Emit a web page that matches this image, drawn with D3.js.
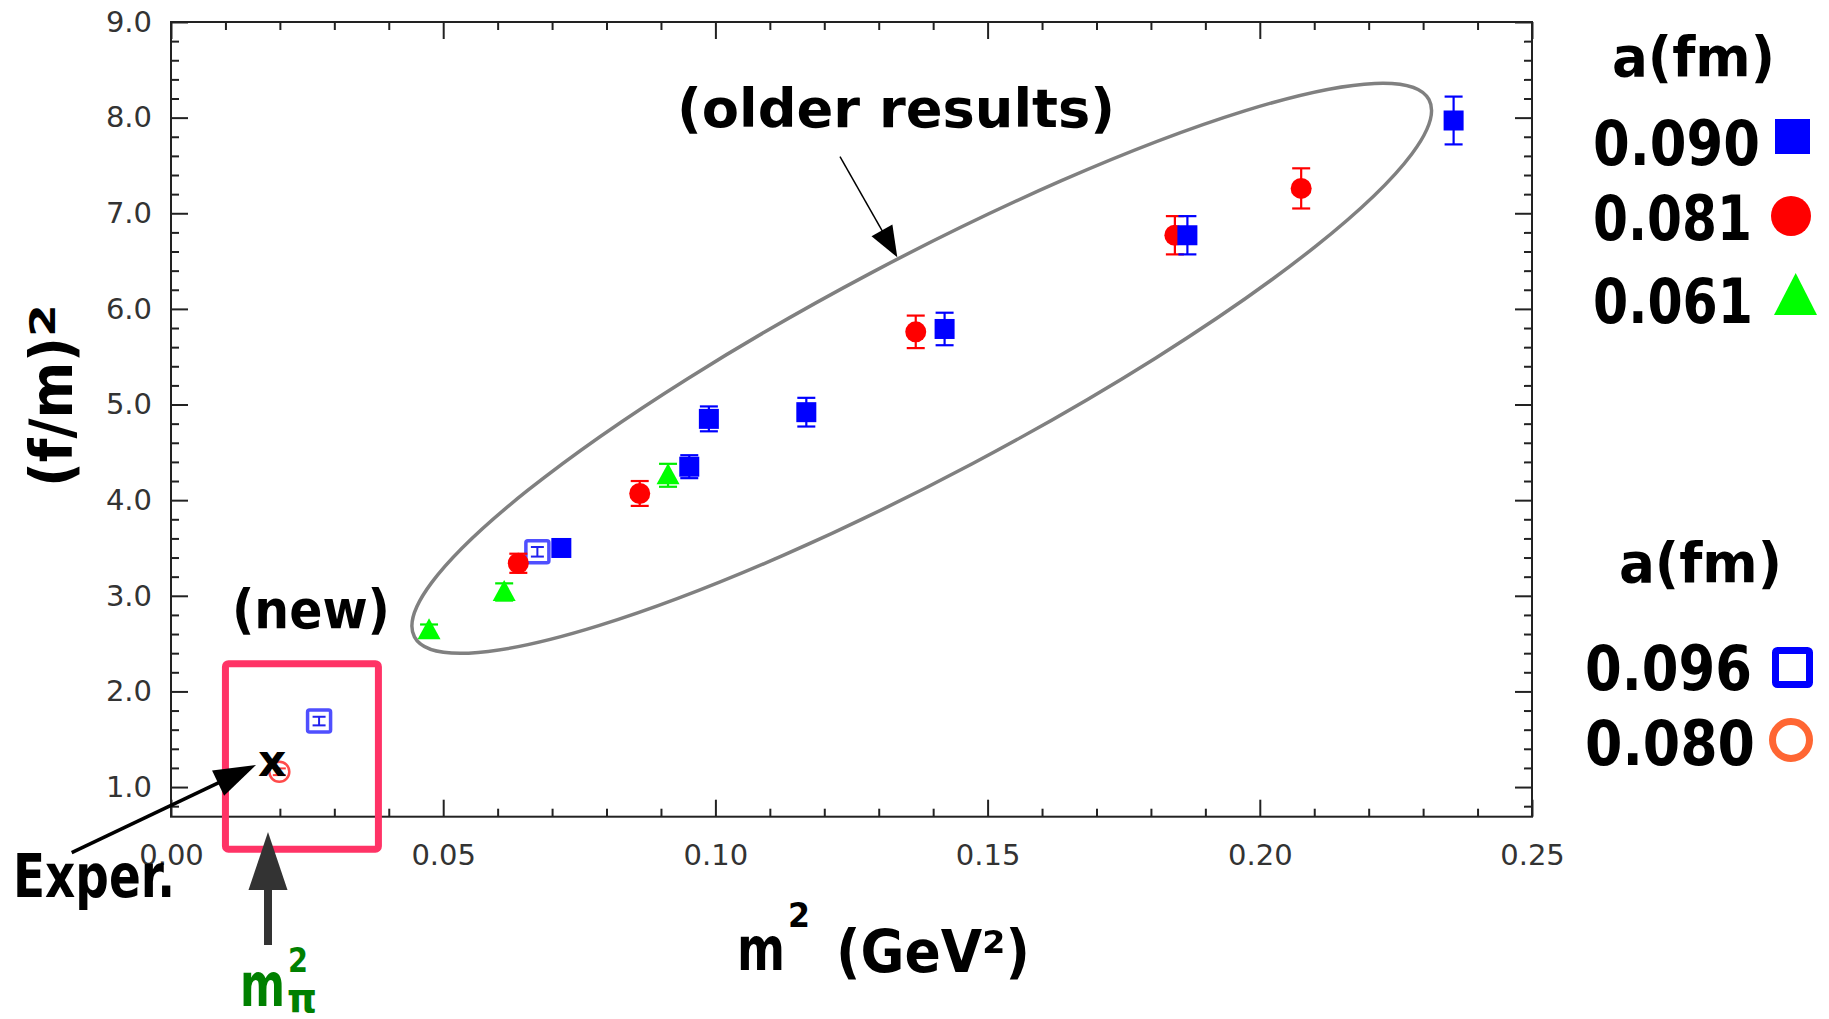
<!DOCTYPE html>
<html>
<head>
<meta charset="utf-8">
<script src="https://cdn.jsdelivr.net/npm/d3@7"></script>
<style>
  html, body { margin: 0; padding: 0; background: #fff; }
  svg { display: block; }
  .tick text { font-family: "DejaVu Sans", sans-serif; font-size: 29px; fill: #333; }
  .ann { font-family: "DejaVu Sans", sans-serif; font-weight: bold; }
</style>
</head>
<body>
<svg id="chart" width="1829" height="1019"></svg>
<script>
// ---------- data ----------
// a = 0.090 fm (filled blue squares)
const m2_090 = [0.0717, 0.0952, 0.0988, 0.1167, 0.1421, 0.1867, 0.2356];
const f_090  = [3.50, 4.35, 4.85, 4.92, 5.79, 6.77, 7.97];
const e_090  = [0.07, 0.12, 0.13, 0.15, 0.17, 0.20, 0.25];
// a = 0.081 fm (filled red circles)
const m2_081 = [0.0638, 0.0861, 0.1368, 0.1844, 0.2076];
const f_081  = [3.34, 4.07, 5.76, 6.77, 7.26];
const e_081  = [0.10, 0.13, 0.17, 0.20, 0.21];
// a = 0.061 fm (green triangles)
const m2_061 = [0.0474, 0.0612, 0.0913];
const f_061  = [2.64, 3.04, 4.26];
const e_061  = [0.06, 0.09, 0.12];
// a = 0.096 fm (open blue squares)
const m2_096 = [0.0272, 0.0673];
const f_096  = [1.69, 3.46];
const e_096  = [0.045, 0.05];
// a = 0.080 fm (open circle)
const m2_080 = [0.0199];
const f_080  = [1.16];
const e_080  = [0.035];
// experiment
const m2_exp = [0.0186];
const f_exp  = [1.24];

const xMajor = [0, 0.05, 0.10, 0.15, 0.20, 0.25];
const yMajor = [1, 2, 3, 4, 5, 6, 7, 8, 9];

// ---------- scales ----------
const svg = d3.select("#chart");
const x = d3.scaleLinear().domain([0, 0.25]).range([171, 1532]);
const y = d3.scaleLinear().domain([0.69, 9.0]).range([816.7, 22]);

const xMinor = d3.range(0, 0.2501, 0.01).filter(v => Math.abs(v / 0.05 - Math.round(v / 0.05)) > 1e-6);
const yMinor = d3.range(0.8, 9.0, 0.2).filter(v => Math.abs(v - Math.round(v)) > 1e-6);

const axisCol = "#222";
function styleAxis(g) {
  g.selectAll(".domain").remove();
  g.selectAll(".tick line").attr("stroke", axisCol).attr("stroke-width", 2);
}
// bottom
svg.append("g").attr("transform", `translate(0,${y(0.69)})`)
  .call(d3.axisBottom(x).tickValues(xMajor).tickFormat(d3.format(".2f")).tickSize(-17).tickPadding(28))
  .call(styleAxis);
svg.append("g").attr("transform", `translate(0,${y(0.69)})`)
  .call(d3.axisBottom(x).tickValues(xMinor).tickFormat("").tickSize(-8)).call(styleAxis);
// top
svg.append("g").attr("transform", `translate(0,${y(9)})`)
  .call(d3.axisTop(x).tickValues(xMajor).tickFormat("").tickSize(-17)).call(styleAxis);
svg.append("g").attr("transform", `translate(0,${y(9)})`)
  .call(d3.axisTop(x).tickValues(xMinor).tickFormat("").tickSize(-8)).call(styleAxis);
// left
svg.append("g").attr("transform", `translate(${x(0)},0)`)
  .call(d3.axisLeft(y).tickValues(yMajor).tickFormat(d3.format(".1f")).tickSize(-17).tickPadding(19))
  .call(styleAxis);
svg.append("g").attr("transform", `translate(${x(0)},0)`)
  .call(d3.axisLeft(y).tickValues(yMinor).tickFormat("").tickSize(-8)).call(styleAxis);
// right
svg.append("g").attr("transform", `translate(${x(0.25)},0)`)
  .call(d3.axisRight(y).tickValues(yMajor).tickFormat("").tickSize(-17)).call(styleAxis);
svg.append("g").attr("transform", `translate(${x(0.25)},0)`)
  .call(d3.axisRight(y).tickValues(yMinor).tickFormat("").tickSize(-8)).call(styleAxis);
// frame
svg.append("rect").attr("x", x(0)).attr("y", y(9)).attr("width", x(0.25) - x(0)).attr("height", y(0.69) - y(9))
  .attr("fill", "none").attr("stroke", axisCol).attr("stroke-width", 2);

// ---------- data marks ----------
function series(xs, ys, es) { return xs.map((v, i) => ({ x: v, y: ys[i], e: es ? es[i] : 0 })); }
const plot = svg.append("g");
function errBars(data, color, cap, sw) {
  const g = plot.append("g").attr("stroke", color).attr("stroke-width", sw).attr("fill", "none");
  data.forEach(d => {
    const cx = x(d.x), y1 = y(d.y - d.e), y2 = y(d.y + d.e);
    g.append("line").attr("x1", cx).attr("x2", cx).attr("y1", y1).attr("y2", y2);
    g.append("line").attr("x1", cx - cap / 2).attr("x2", cx + cap / 2).attr("y1", y1).attr("y2", y1);
    g.append("line").attr("x1", cx - cap / 2).attr("x2", cx + cap / 2).attr("y1", y2).attr("y2", y2);
  });
}
const d090 = series(m2_090, f_090, e_090);
const d081 = series(m2_081, f_081, e_081);
const d061 = series(m2_061, f_061, e_061);
const d096 = series(m2_096, f_096, e_096);
const d080 = series(m2_080, f_080, e_080);

// open blue squares
plot.selectAll(".s096").data(d096).enter().append("rect")
  .attr("x", d => x(d.x) - 11.5).attr("y", d => y(d.y) - 11).attr("width", 23).attr("height", 22)
  .attr("rx", 2).attr("fill", "none").attr("stroke", "#4f4fff").attr("stroke-width", 3.5);
errBars(d096, "#2222ee", 13, 2);

// open circle
plot.selectAll(".c080").data(d080).enter().append("circle")
  .attr("cx", d => x(d.x)).attr("cy", d => y(d.y)).attr("r", 10)
  .attr("fill", "none").attr("stroke", "#ff4a4a").attr("stroke-width", 2.5);
errBars(d080, "#ff3b3b", 13, 2);

// green triangles
errBars(d061, "#00ee00", 18, 2.2);
plot.selectAll(".t061").data(d061).enter().append("path")
  .attr("d", d => { const cx = x(d.x), cy = y(d.y); return `M${cx},${cy - 12}L${cx + 11.5},${cy + 9}L${cx - 11.5},${cy + 9}Z`; })
  .attr("fill", "#00ff00");

// red circles
errBars(d081, "#ff0000", 18, 2.2);
plot.selectAll(".c081").data(d081).enter().append("circle")
  .attr("cx", d => x(d.x)).attr("cy", d => y(d.y)).attr("r", 10.5).attr("fill", "#ff0000");

// blue squares
errBars(d090, "#0000ff", 18, 2.2);
plot.selectAll(".s090").data(d090).enter().append("rect")
  .attr("x", d => x(d.x) - 10).attr("y", d => y(d.y) - 10).attr("width", 20).attr("height", 20)
  .attr("fill", "#0000ff");

// experiment "x"
plot.selectAll(".exp").data(series(m2_exp, f_exp)).enter().append("text")
  .attr("class", "ann").attr("x", d => x(d.x)).attr("y", d => y(d.y) + 12)
  .attr("text-anchor", "middle").attr("font-size", 44).attr("fill", "#000").text("x");

// ---------- annotations ----------
const ann = svg.append("g");
// ellipse around older results
ann.append("ellipse")
  .attr("transform", `translate(${x(0.1379)},${y(5.379)}) rotate(-27.9)`)
  .attr("rx", 574).attr("ry", 108)
  .attr("fill", "none").attr("stroke", "#808080").attr("stroke-width", 3.5);
// box around new results
ann.append("rect")
  .attr("x", x(0.01) ).attr("y", y(2.29))
  .attr("width", x(0.0381) - x(0.01)).attr("height", y(0.35) - y(2.29))
  .attr("rx", 3).attr("fill", "none").attr("stroke", "#ff3366").attr("stroke-width", 7);

function arrow(x0, y0, tipX, tipY, headLen, headW, sw, color) {
  const dx = tipX - x0, dy = tipY - y0, L = Math.hypot(dx, dy);
  const ux = dx / L, uy = dy / L;
  const bx = tipX - ux * headLen, by = tipY - uy * headLen;
  ann.append("line").attr("x1", x0).attr("y1", y0).attr("x2", bx + ux * 2).attr("y2", by + uy * 2)
    .attr("stroke", color).attr("stroke-width", sw);
  ann.append("path")
    .attr("d", `M${tipX},${tipY}L${bx - uy * headW / 2},${by + ux * headW / 2}L${bx + uy * headW / 2},${by - ux * headW / 2}Z`)
    .attr("fill", color);
}
arrow(840, 156.7, 897.3, 257.3, 31, 24, 1.5, "#000");
arrow(71.7, 852.7, 256, 765, 42, 28, 3.5, "#000");
arrow(268, 945, 268, 832, 58, 39, 8, "#333");

function label(txt, x0, yb, size, len, color) {
  return ann.append("text").attr("class", "ann").attr("x", x0).attr("y", yb)
    .attr("font-size", size).attr("textLength", len).attr("lengthAdjust", "spacingAndGlyphs")
    .attr("fill", color || "#000").text(txt);
}
label("(older results)", 677, 127, 54, 438);
label("(new)", 232, 628, 54, 158);
label("Exper.", 13, 897, 60, 162);

// axis titles
label("m", 737, 970, 60, 48);
label("2", 788, 927, 34, 22);
label("(GeV²)", 836, 972, 58, 194);
ann.append("text").attr("class", "ann").attr("transform", "translate(72,487) rotate(-90)")
  .attr("font-size", 58).attr("textLength", 150).attr("lengthAdjust", "spacingAndGlyphs").attr("fill", "#000").text("(f/m)");
ann.append("text").attr("class", "ann").attr("transform", "translate(55,337) rotate(-90)")
  .attr("font-size", 36).attr("textLength", 33).attr("lengthAdjust", "spacingAndGlyphs").attr("fill", "#000").text("2");

// m_pi^2
label("m", 240, 1006, 60, 45, "#008000");
label("2", 288, 972, 34, 20, "#008000");
label("π", 287, 1012, 40, 30, "#008000");

// legends
label("a(fm)", 1612, 76, 56, 163);
label("0.090", 1593, 165, 62, 167);
label("0.081", 1593, 240, 62, 159);
label("0.061", 1593, 323, 62, 160);
ann.append("rect").attr("x", 1775).attr("y", 119).attr("width", 35).attr("height", 35).attr("fill", "#0000ff");
ann.append("circle").attr("cx", 1791).attr("cy", 216).attr("r", 20).attr("fill", "#ff0000");
ann.append("path").attr("d", "M1795.7,273L1817,315L1774,315Z").attr("fill", "#00ff00");

label("a(fm)", 1619, 582, 56, 163);
label("0.096", 1585, 690, 62, 167);
label("0.080", 1585, 765, 62, 170);
ann.append("rect").attr("x", 1775.5).attr("y", 650.5).attr("width", 34).attr("height", 34).attr("rx", 2)
  .attr("fill", "none").attr("stroke", "#0000ff").attr("stroke-width", 7);
ann.append("circle").attr("cx", 1791).attr("cy", 740).attr("r", 18.5)
  .attr("fill", "none").attr("stroke", "#ff6633").attr("stroke-width", 7);
</script>
</body>
</html>
